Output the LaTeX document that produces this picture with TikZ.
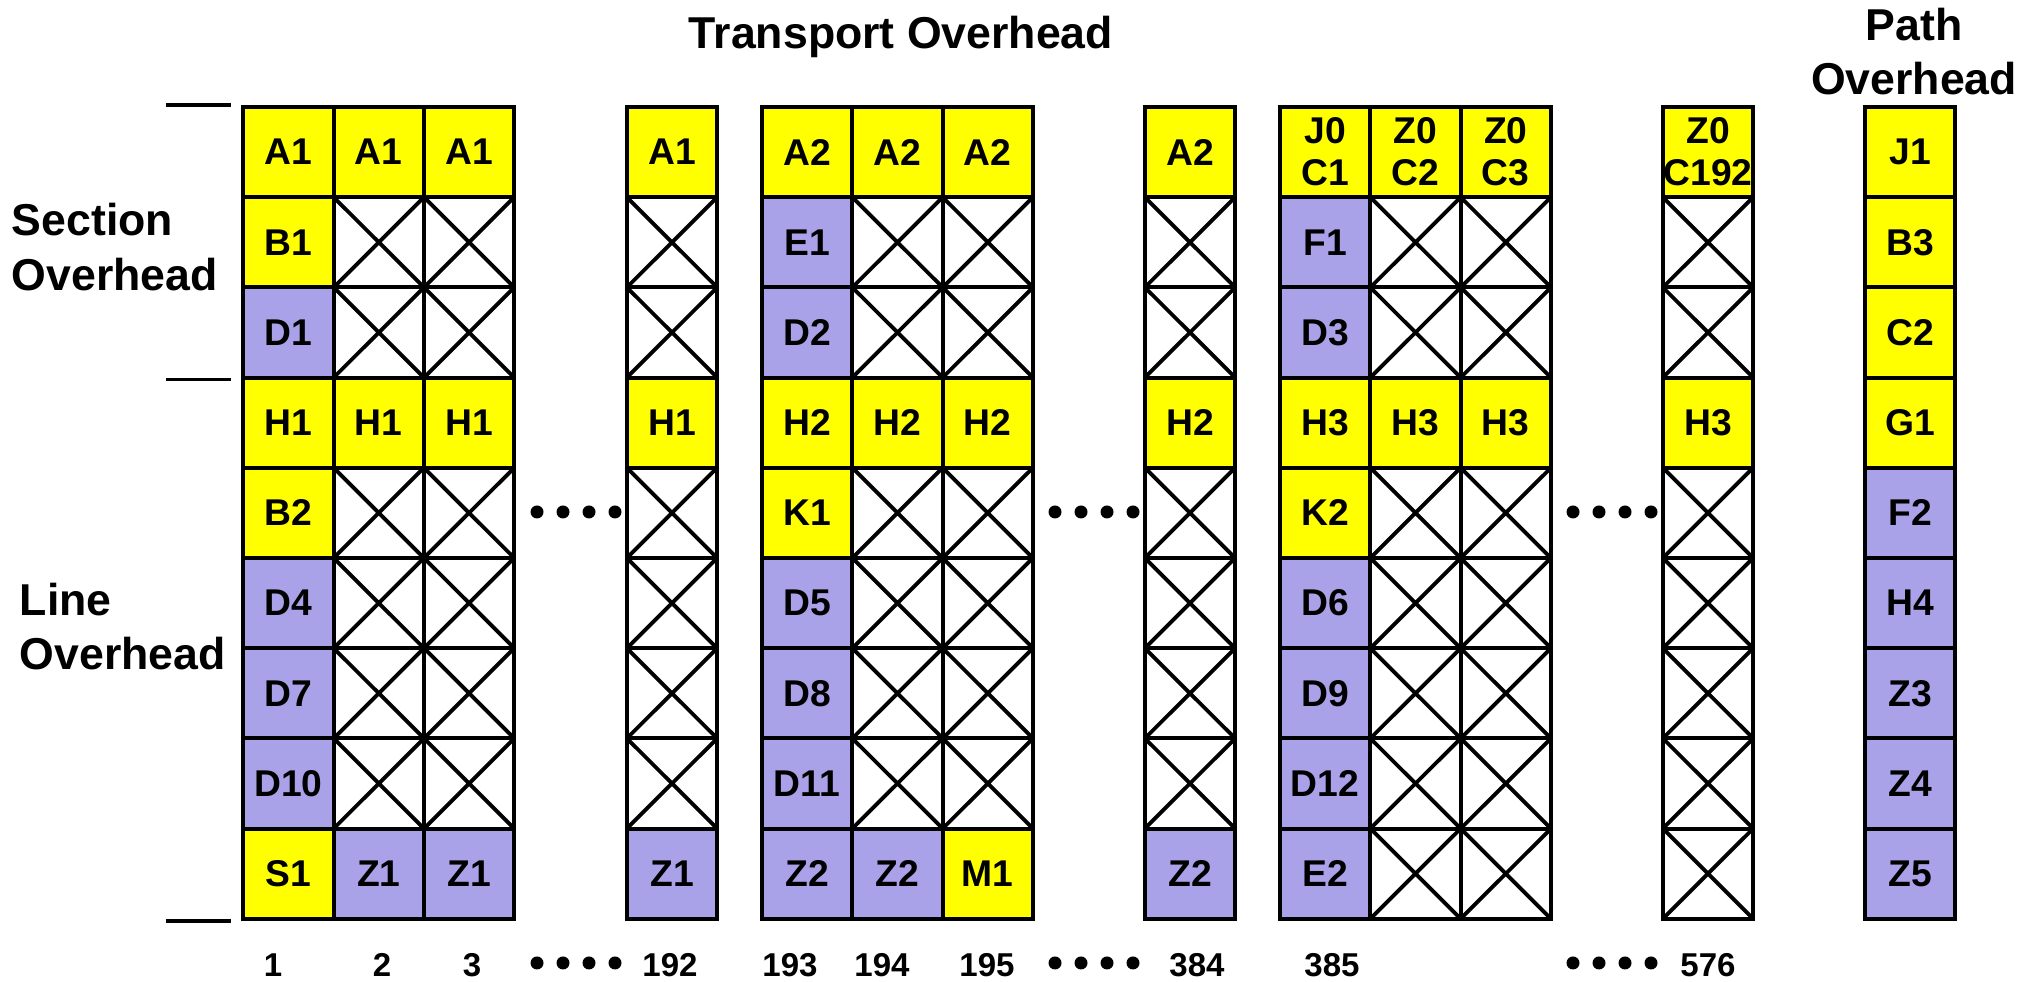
\documentclass[tikz,border=0pt]{standalone}
\usepackage{fontspec}
\setmainfont{Liberation Sans}
\usepackage{tikz}
\usetikzlibrary{positioning}

\definecolor{ohyellow}{RGB}{255,255,0}
\definecolor{ohblue}{RGB}{170,162,232}

% one column of overhead bytes: name, x position, list of style/label (top to bottom)
\newcommand{\bytecol}[3]{%
  \foreach \kind/\lbl [count=\row] in {#3}
    \node[\kind] (#1-\row) at (#2,{8.299-0.902*(\row-1)}) {\lbl};}

\begin{document}
\begin{tikzpicture}[line width=1.1pt,
    byte/.style={draw, minimum width=0.903cm, minimum height=0.902cm, inner sep=0pt, align=center,
      font=\fontsize{10.6}{12}\selectfont\bfseries},
    yb/.style={byte, fill=ohyellow},
    bb/.style={byte, fill=ohblue},
    xb/.style={byte, fill=white, path picture={
      \draw (path picture bounding box.north west) -- (path picture bounding box.south east)
            (path picture bounding box.south west) -- (path picture bounding box.north east);}},
    heading/.style={inner sep=0pt, font=\fontsize{12.7}{15.6}\selectfont\bfseries},
    colnum/.style={anchor=base, inner sep=0pt, font=\fontsize{9.4}{11}\selectfont\bfseries}]
	\useasboundingbox (0,0) rectangle (20.34,9.82);

	% transport overhead columns
	\bytecol{c1}{2.885}{yb/A1, yb/B1, bb/D1, yb/H1, yb/B2, bb/D4, bb/D7, bb/D10, yb/S1}
	\bytecol{c2}{3.788}{yb/A1, xb/{}, xb/{}, yb/H1, xb/{}, xb/{}, xb/{}, xb/{}, bb/Z1}
	\bytecol{c3}{4.691}{yb/A1, xb/{}, xb/{}, yb/H1, xb/{}, xb/{}, xb/{}, xb/{}, bb/Z1}
	\bytecol{c192}{6.72}{yb/A1, xb/{}, xb/{}, yb/H1, xb/{}, xb/{}, xb/{}, xb/{}, bb/Z1}
	\bytecol{c193}{8.07}{yb/A2, bb/E1, bb/D2, yb/H2, yb/K1, bb/D5, bb/D8, bb/D11, bb/Z2}
	\bytecol{c194}{8.975}{yb/A2, xb/{}, xb/{}, yb/H2, xb/{}, xb/{}, xb/{}, xb/{}, bb/Z2}
	\bytecol{c195}{9.878}{yb/A2, xb/{}, xb/{}, yb/H2, xb/{}, xb/{}, xb/{}, xb/{}, yb/M1}
	\bytecol{c384}{11.90}{yb/A2, xb/{}, xb/{}, yb/H2, xb/{}, xb/{}, xb/{}, xb/{}, bb/Z2}
	\bytecol{c385}{13.25}{yb/{J0\\C1}, bb/F1, bb/D3, yb/H3, yb/K2, bb/D6, bb/D9, bb/D12, bb/E2}
	\bytecol{c386}{14.155}{yb/{Z0\\C2}, xb/{}, xb/{}, yb/H3, xb/{}, xb/{}, xb/{}, xb/{}, xb/{}}
	\bytecol{c387}{15.058}{yb/{Z0\\C3}, xb/{}, xb/{}, yb/H3, xb/{}, xb/{}, xb/{}, xb/{}, xb/{}}
	\bytecol{c576}{17.08}{yb/{Z0\\C192}, xb/{}, xb/{}, yb/H3, xb/{}, xb/{}, xb/{}, xb/{}, xb/{}}
	% path overhead
	\bytecol{p}{19.10}{yb/J1, yb/B3, yb/C2, yb/G1, bb/F2, bb/H4, bb/Z3, bb/Z4, bb/Z5}

	\node[heading, anchor=base] (toh) at (9.01,9.33) {Transport Overhead};
	\node[heading, align=center] (poh) at (19.14,9.305) {Path\\Overhead};
	\node[heading, align=left, anchor=west] (soh) at (0.10,7.35) {Section\\Overhead};
	\node[heading, align=left, anchor=west] (loh) at (0.18,3.555) {Line\\Overhead};

	% section / line marks
	\draw ([xshift=-0.75cm]c1-1.north west) -- ++(0.65,0);
	\draw ([xshift=-0.75cm]c1-3.south west) -- ++(0.65,0);
	\draw ([xshift=-0.75cm]c1-9.south west) -- ++(0.65,0);

	% dots for the left out columns
	\foreach \x in {5.37,10.55,15.73}
	  \foreach \k in {0,...,3} {
	    \fill ({\x+0.26*\k},4.70) circle (1.85pt);
	    \fill ({\x+0.26*\k},0.19) circle (1.85pt);
	  }

	% column numbers
	\foreach \x/\n in {2.73/1, 3.82/2, 4.72/3, 6.70/192, 7.90/193, 8.82/194, 9.87/195, 11.97/384, 13.32/385, 17.08/576}
	  \node[colnum] (n\n) at (\x,0.05) {\n};
\end{tikzpicture}
\end{document}
